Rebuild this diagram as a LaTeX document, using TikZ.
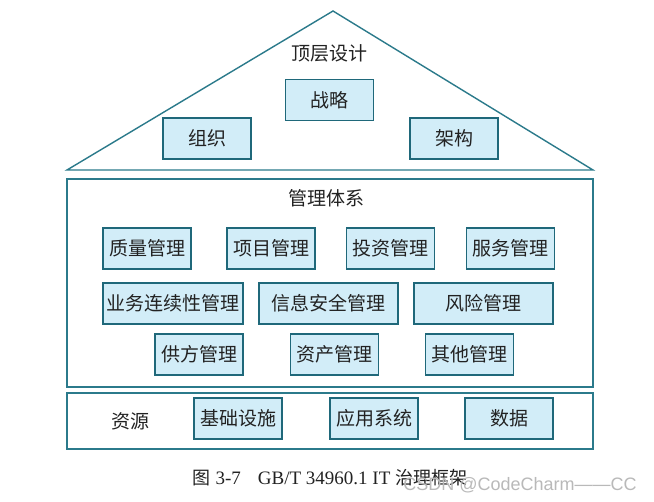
\documentclass[tikz,border=0pt]{standalone}
\usepackage{fontspec}
\setmainfont{Liberation Serif}
\newfontfamily\cjk{Noto Sans CJK SC}
\newfontfamily\markfont{Liberation Sans}
\usepackage{tikz}

\definecolor{frameteal}{HTML}{2B7A8B}
\definecolor{boxline}{HTML}{1F687A}
\definecolor{boxblue}{HTML}{D2EDF8}
\definecolor{inkgray}{HTML}{222222}

\newcommand{\zhcap}{\cjk\fontsize{18}{18}\selectfont}

\begin{document}
\begin{tikzpicture}[x=1pt,y=-1pt,
  item/.style={draw=boxline,line width=1.6pt,fill=boxblue,
    minimum width=88pt,minimum height=41pt,inner sep=0pt,
    font=\cjk\fontsize{19}{19}\selectfont,text=inkgray},
  wide/.style={item,minimum width=139pt},
  heading/.style={font=\cjk\fontsize{19}{19}\selectfont,text=inkgray},
  layer/.style={draw=frameteal,line width=1.4pt}]
\useasboundingbox[fill=white] (0,0) rectangle (654,502);

% roof: top-level design
\coordinate (roofl) at (67,170);
\coordinate (roofr) at (593,170);
\coordinate (apex) at (333,11);
\draw[layer] (roofl) -- (apex) -- (roofr) -- cycle;
\node[heading] (top) at (329,53) {顶层设计};
\node[item] (strategy) at (329.5,100) {战略};
\node[item] (org) at (207,138.5) {组织};
\node[item] (arch) at (454,138.5) {架构};

% management system
\node[layer,minimum width=526pt,minimum height=208pt,inner sep=0pt] (mgmt) at (330,283) {};
\node[heading] (mgmttitle) at (326,198) {管理体系};
\node[item] (quality) at (147,248.5) {质量管理};
\node[item] (project) at (271,248.5) {项目管理};
\node[item] (invest) at (390.5,248.5) {投资管理};
\node[item] (service) at (510.5,248.5) {服务管理};
\node[wide,minimum width=140pt] (continuity) at (173,303.5) {业务连续性管理};
\node[wide] (security) at (328.5,303.5) {信息安全管理};
\node[wide] (risk) at (483.5,303.5) {风险管理};
\node[item] (supplier) at (199,354.5) {供方管理};
\node[item] (asset) at (334.5,354.5) {资产管理};
\node[item] (other) at (469.5,354.5) {其他管理};

% resources
\node[layer,minimum width=526pt,minimum height=56pt,inner sep=0pt] (res) at (330,421) {};
\node[heading] (restitle) at (130,421) {资源};
\node[item] (infra) at (238,418.5) {基础设施};
\node[item] (apps) at (374,418.5) {应用系统};
\node[item] (data) at (509,418.5) {数据};

% caption
\node[font=\fontsize{19}{19}\selectfont,text=inkgray] (caption) at (330,478)
  {{\zhcap 图} 3-7\hspace{0.9em}GB/T 34960.1 IT {\zhcap 治理框架}};
\node[font=\markfont\fontsize{18}{18}\selectfont,text=gray!55] (mark) at (520,485)
  {CSDN @CodeCharm——CC};
\end{tikzpicture}
\end{document}
